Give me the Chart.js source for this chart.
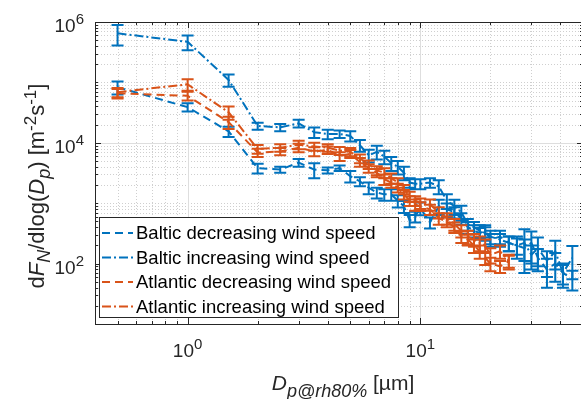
<!DOCTYPE html>
<html>
<head>
<meta charset="utf-8">
<script src="https://cdn.jsdelivr.net/npm/chart.js@4.4.1/dist/chart.umd.min.js"></script>
<style>
  html, body { margin: 0; padding: 0; background: #fff; overflow: hidden; }
  #wrap { width: 584px; height: 399px; }
</style>
</head>
<body>
<div id="wrap"><canvas id="fluxChart" width="584" height="399"></canvas></div>
<script>
// particle diameters at rh 80% [um]
const balticDiam = [0.5, 1, 1.5, 2, 2.5, 3, 3.5, 4, 4.5, 5, 5.5, 6, 6.5, 7, 7.5, 8, 8.5, 9, 9.5, 10,
  11, 12, 13, 14, 15, 16, 17, 18, 19, 20, 22, 24, 26, 28, 30, 32, 35, 38, 41, 45];
const atlanticDiam = [0.5, 1, 1.5, 2, 2.5, 3, 3.5, 4, 4.5, 5, 5.5, 6, 6.5, 7, 7.5, 8, 8.5, 9, 9.5, 10,
  11, 12, 13, 14, 15, 16, 17, 18, 19, 20, 22, 24];

// dF/dlogDp [m-2 s-1] and their errors
const balticDecr = [8.3e4, 3.9e4, 1.55e4, 3800, 3600, 4700, 3600, 3500, 3800, 2800,
  2300, 1800, 1500, 1400, 1400, 1100, 890, 520, 600, 830,
  480, 890, 790, 710, 560, 400, 350, 320, 350, 250,
  280, 220, 200, 180, 220, 125, 80, 100, 70, 56];
const balticDecrErr = [2e4, 6000, 3000, 700, 400, 700, 1000, 400, 400, 600,
  400, 400, 300, 300, 300, 250, 200, 120, 120, 200,
  100, 250, 200, 150, 120, 90, 80, 70, 80, 60,
  70, 60, 80, 70, 120, 50, 40, 50, 30, 20];
const balticIncr = [6.5e5, 4.7e5, 1.1e5, 1.9e4, 1.8e4, 2.1e4, 1.5e4, 1.4e4, 1.4e4, 1.3e4,
  9100, 6200, 7100, 5900, 4600, 4000, 3200, 2200, 2100, 2100,
  2200, 1900, 1100, 890, 710, 450, 400, 350, 320, 280,
  250, 220, 200, 220, 140, 180, 110, 160, 70, 125];
const balticIncrErr = [2.4e5, 1.3e5, 2.5e4, 2500, 2500, 3000, 3000, 2500, 2000, 2500,
  2000, 1500, 1800, 1500, 1200, 1000, 800, 400, 400, 400,
  400, 500, 300, 250, 200, 100, 90, 80, 80, 70,
  60, 60, 60, 150, 60, 90, 50, 80, 25, 70];
const atlanticDecr = [6.6e4, 6.0e4, 2.2e4, 6900, 7200, 8300, 7200, 7600, 6000, 6600,
  4800, 3800, 3200, 2500, 2200, 1800, 1400, 1100, 950, 890,
  790, 560, 500, 400, 280, 250, 200, 160, 125, 100, 90, 110];
const atlanticDecrErr = [1.2e4, 1e4, 5000, 1100, 1000, 1300, 1200, 1100, 1000, 1000,
  800, 600, 500, 500, 400, 300, 250, 200, 200, 150,
  150, 120, 100, 80, 60, 50, 50, 40, 30, 25, 20, 25];
const atlanticIncr = [6.9e4, 9.3e4, 3.2e4, 7900, 8300, 9300, 8700, 8300, 7400, 7100,
  5500, 4400, 3500, 3200, 2600, 2200, 1700, 1300, 1100, 1000,
  950, 710, 560, 450, 350, 280, 250, 220, 200, 140, 160, 110];
const atlanticIncrErr = [1.2e4, 2e4, 8000, 1300, 1200, 1500, 1300, 1200, 1100, 1100,
  900, 700, 600, 600, 500, 400, 300, 250, 200, 200,
  200, 150, 120, 100, 80, 70, 60, 60, 50, 40, 40, 30];

// labelled decades
const xTickExps = [0, 1];
const yTickExps = [2, 4, 6];

const BLUE = '#0072BD';
const ORANGE = '#D95319';
const AXIS = '#262626';
const FONT = '"Liberation Sans", Arial, Helvetica, sans-serif';
const DASHED = [8, 5];
const DASHDOT = [9, 3, 2, 3];

function toPoints(xs, ys, errs) {
  return xs.map((x, i) => ({ x: x, y: ys[i], err: errs[i] }));
}

function font(size, italic) {
  return (italic ? 'italic ' : '') + size + 'px ' + FONT;
}

// parts: [text, size, italic, baseline shift]
function drawRich(ctx, parts, x, y, align) {
  let total = 0;
  const widths = parts.map(p => {
    ctx.font = font(p[1], p[2]);
    const w = ctx.measureText(p[0]).width;
    total += w;
    return w;
  });
  let cx = align === 'center' ? x - total / 2 : align === 'right' ? x - total : x;
  ctx.textAlign = 'left';
  ctx.textBaseline = 'alphabetic';
  parts.forEach((p, i) => {
    ctx.font = font(p[1], p[2]);
    ctx.fillText(p[0], cx, y + p[3]);
    cx += widths[i];
  });
}

function logValues(min, max, majors) {
  const out = [];
  for (let k = Math.floor(Math.log10(min)); k <= Math.ceil(Math.log10(max)); k++) {
    for (let m = 1; m <= 9; m++) {
      const v = m * Math.pow(10, k);
      if (v > min * 1.0001 && v < max * 0.9999 && !majors.some(j => Math.abs(j - v) < v * 1e-6)) out.push(v);
    }
  }
  return out;
}

const axesFrame = {
  id: 'axesFrame',
  beforeDatasetsDraw(chart) {
    const { ctx, chartArea: a, scales: { x, y } } = chart;
    const xMaj = xTickExps.map(e => Math.pow(10, e));
    const yMaj = yTickExps.map(e => Math.pow(10, e));
    const xMin = logValues(x.min, x.max, xMaj);
    const yMin = logValues(y.min, y.max, yMaj);
    const px = v => Math.round(x.getPixelForValue(v)) + 0.5;
    const py = v => Math.round(y.getPixelForValue(v)) + 0.5;
    ctx.save();
    ctx.lineWidth = 1;
    // minor grid, dotted
    ctx.strokeStyle = '#cfcfcf';
    ctx.setLineDash([1, 2]);
    ctx.beginPath();
    xMin.forEach(v => { ctx.moveTo(px(v), a.top); ctx.lineTo(px(v), a.bottom); });
    yMin.forEach(v => { ctx.moveTo(a.left, py(v)); ctx.lineTo(a.right, py(v)); });
    ctx.stroke();
    // major grid
    ctx.setLineDash([]);
    ctx.strokeStyle = '#dedede';
    ctx.beginPath();
    xMaj.forEach(v => { ctx.moveTo(px(v), a.top); ctx.lineTo(px(v), a.bottom); });
    yMaj.forEach(v => { ctx.moveTo(a.left, py(v)); ctx.lineTo(a.right, py(v)); });
    ctx.stroke();
    // box and inward ticks
    ctx.strokeStyle = AXIS;
    ctx.beginPath();
    xMaj.concat(xMin).forEach((v, i) => {
      const len = i < xMaj.length ? 6 : 3;
      ctx.moveTo(px(v), a.bottom); ctx.lineTo(px(v), a.bottom - len);
      ctx.moveTo(px(v), a.top); ctx.lineTo(px(v), a.top + len);
    });
    yMaj.concat(yMin).forEach((v, i) => {
      const len = i < yMaj.length ? 6 : 3;
      ctx.moveTo(a.left, py(v)); ctx.lineTo(a.left + len, py(v));
      ctx.moveTo(a.right, py(v)); ctx.lineTo(a.right - len, py(v));
    });
    ctx.stroke();
    ctx.strokeRect(Math.round(a.left) + 0.5, Math.round(a.top) + 0.5,
      Math.round(a.width), Math.round(a.height));
    ctx.restore();
  },
  afterDatasetDraw(chart, args) {
    // vertical error bars with caps, drawn with their own line
    const { ctx, chartArea: a, scales: { x, y } } = chart;
    const ds = chart.data.datasets[args.index];
    ctx.save();
    ctx.beginPath();
    ctx.rect(a.left, a.top, a.width, a.height);
    ctx.clip();
    ctx.strokeStyle = ds.borderColor;
    ctx.lineWidth = ds.borderWidth;
    ctx.setLineDash([]);
    ctx.beginPath();
    ds.data.forEach(p => {
      const cx = x.getPixelForValue(p.x);
      const lo = p.y - p.err > 0 ? y.getPixelForValue(p.y - p.err) : a.bottom + 5;
      const hi = y.getPixelForValue(p.y + p.err);
      ctx.moveTo(cx, lo); ctx.lineTo(cx, hi);
      ctx.moveTo(cx - 6, lo); ctx.lineTo(cx + 6, lo);
      ctx.moveTo(cx - 6, hi); ctx.lineTo(cx + 6, hi);
    });
    ctx.stroke();
    ctx.restore();
  },
  afterDraw(chart) {
    const { ctx, chartArea: a, scales: { x, y } } = chart;
    ctx.save();
    ctx.fillStyle = AXIS;
    // tick labels
    xTickExps.forEach(e => {
      drawRich(ctx, [['10', 19, false, 0], [String(e), 15, false, -8]],
        x.getPixelForValue(Math.pow(10, e)), a.bottom + 33, 'center');
    });
    yTickExps.forEach(e => {
      drawRich(ctx, [['10', 19, false, 0], [String(e), 15, false, -8]],
        a.left - 11, y.getPixelForValue(Math.pow(10, e)) + 10, 'right');
    });
    // axis titles
    drawRich(ctx, [['D', 21, true, 0], ['p@rh80%', 18, true, 7], [' [\u00b5m]', 21, false, 0]],
      343, 390, 'center');
    ctx.translate(44, 186);
    ctx.rotate(-Math.PI / 2);
    drawRich(ctx, [['d', 22, false, 0], ['F', 22, true, 0], ['N', 18, true, 6],
      ['/dlog(', 22, false, 0], ['D', 22, true, 0], ['p', 18, true, 6], [') [m', 22, false, 0],
      ['-2', 17, false, -8], ['s', 22, false, 0], ['-1', 17, false, -8], [']', 22, false, 0]],
      0, 0, 'center');
    ctx.restore();

    // legend box
    const box = { left: 99, top: 217, right: 398, bottom: 317 };
    ctx.save();
    ctx.fillStyle = '#fff';
    ctx.fillRect(box.left, box.top, box.right - box.left, box.bottom - box.top);
    ctx.strokeStyle = AXIS;
    ctx.lineWidth = 1;
    ctx.strokeRect(box.left + 0.5, box.top + 0.5, box.right - box.left, box.bottom - box.top);
    chart.data.datasets.forEach((ds, i) => {
      const cy = box.top + 16 + i * 24.5;
      ctx.strokeStyle = ds.borderColor;
      ctx.lineWidth = ds.borderWidth;
      ctx.setLineDash(ds.borderDash);
      ctx.beginPath();
      ctx.moveTo(box.left + 3, cy);
      ctx.lineTo(box.left + 34, cy);
      ctx.stroke();
      ctx.fillStyle = '#000';
      ctx.font = font(18.5, false);
      ctx.textAlign = 'left';
      ctx.textBaseline = 'middle';
      ctx.fillText(ds.label, box.left + 37, cy + 1);
    });
    ctx.restore();
  }
};

function series(label, xs, ys, errs, color, dash, order) {
  return {
    label: label,
    data: toPoints(xs, ys, errs),
    borderColor: color,
    backgroundColor: color,
    borderWidth: 2,
    borderDash: dash,
    pointRadius: 0,
    pointHoverRadius: 0,
    fill: false,
    tension: 0,
    order: order
  };
}

new Chart(document.getElementById('fluxChart'), {
  type: 'line',
  data: {
    datasets: [
      series('Baltic decreasing wind speed', balticDiam, balticDecr, balticDecrErr, BLUE, DASHED, 4),
      series('Baltic increasing wind speed', balticDiam, balticIncr, balticIncrErr, BLUE, DASHDOT, 3),
      series('Atlantic decreasing wind speed', atlanticDiam, atlanticDecr, atlanticDecrErr, ORANGE, DASHED, 2),
      series('Atlantic increasing wind speed', atlanticDiam, atlanticIncr, atlanticIncrErr, ORANGE, DASHDOT, 1)
    ]
  },
  options: {
    responsive: false,
    animation: false,
    events: [],
    layout: { padding: { left: 95, top: 22, right: 1, bottom: 75 } },
    plugins: { legend: { display: false }, tooltip: { enabled: false } },
    scales: {
      x: { type: 'logarithmic', min: 0.4, max: 50, display: false },
      y: { type: 'logarithmic', min: 10, max: 1e6, display: false }
    }
  },
  plugins: [axesFrame]
});
</script>
</body>
</html>
